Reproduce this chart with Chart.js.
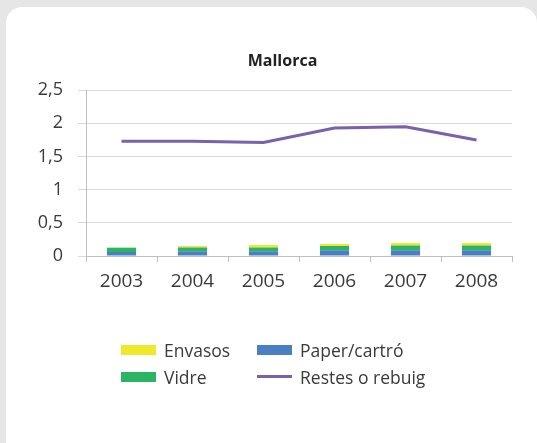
<!DOCTYPE html>
<html>
<head>
<meta charset="utf-8">
<script src="https://cdn.jsdelivr.net/npm/chart.js@4.4.1/dist/chart.umd.min.js"></script>
<style>
  html, body { margin: 0; padding: 0; }
  body {
    width: 537px; height: 443px; overflow: hidden;
    background: #e6e6e6; position: relative;
    font-family: "Open Sans", sans-serif;
  }
  #card {
    position: absolute; left: 6px; top: 7px; width: 531px; height: 450px;
    background: #fff; border-radius: 16px;
  }
  #wrap { position: absolute; left: 0; top: 0; width: 537px; height: 443px; }
  #legend {
    position: absolute; left: 121px; top: 336px;
    display: grid; grid-template-columns: 136px auto; grid-auto-rows: 27px;
    font-size: 17.5px; color: #3a3a3a;
  }
  .item { display: flex; align-items: center; white-space: nowrap; }
  .swatch { width: 35px; height: 10px; margin-right: 8px; }
  .swatch.line { height: 3px; }
</style>
</head>
<body>
<div id="card"></div>
<div id="wrap"><canvas id="chart" width="537" height="443"></canvas></div>
<div id="legend"></div>
<script>
  // --- Data ---
  const years = ["2003", "2004", "2005", "2006", "2007", "2008"];
  const paperCarton = [0.06, 0.07, 0.07, 0.085, 0.085, 0.085];
  const vidre = [0.065, 0.06, 0.06, 0.065, 0.075, 0.075];
  const envasos = [0.005, 0.02, 0.035, 0.03, 0.035, 0.035];
  const restes = [1.73, 1.73, 1.71, 1.93, 1.95, 1.75];
  const legendOrder = ["Envasos", "Paper/cartró", "Vidre", "Restes o rebuig"];

  const textColor = "#3a3a3a";
  const gridColor = "#d9d9d9";

  const chart = new Chart(document.getElementById("chart"), {
    data: {
      labels: years,
      datasets: [
        {
          type: "bar", label: "Paper/cartró", data: paperCarton,
          backgroundColor: "#4a7fc1", stack: "bars",
          barPercentage: 0.41, categoryPercentage: 1,
        },
        {
          type: "bar", label: "Vidre", data: vidre,
          backgroundColor: "#2bb463", stack: "bars",
          barPercentage: 0.41, categoryPercentage: 1,
        },
        {
          type: "bar", label: "Envasos", data: envasos,
          backgroundColor: "#f0e82a", stack: "bars",
          barPercentage: 0.41, categoryPercentage: 1,
        },
        {
          type: "line", label: "Restes o rebuig", data: restes,
          borderColor: "#7b60ac", backgroundColor: "#7b60ac",
          borderWidth: 3, pointRadius: 0, tension: 0, stack: "line",
        },
      ],
    },
    options: {
      responsive: false,
      animation: false,
      // left - right = 28 keeps the title centred where the original has it
      layout: { padding: { left: 30, right: 2, top: 40, bottom: 147 } },
      plugins: {
        legend: { display: false },
        tooltip: { enabled: false },
        title: {
          display: true, text: "Mallorca", color: "#222",
          font: { family: "Open Sans", size: 16, weight: "bold" },
          padding: { top: 12, bottom: 19 },
        },
      },
      scales: {
        x: {
          stacked: true,
          afterFit: (scale) => { scale.height = 40; },
          grid: {
            offset: true, drawOnChartArea: false, drawTicks: true,
            tickLength: 6, color: "#bfbfbf",
          },
          border: { color: "#bfbfbf" },
          ticks: {
            color: textColor, padding: 8,
            font: { family: "Open Sans", size: 19 },
          },
        },
        y: {
          stacked: true, min: 0, max: 2.5,
          afterFit: (scale) => { scale.width = 56; },
          grid: { color: gridColor, tickLength: 8 },
          border: { color: "#bfbfbf" },
          ticks: {
            stepSize: 0.5, color: textColor, padding: 15,
            font: { family: "Open Sans", size: 18 },
            callback: (v) => String(v).replace(".", ","),
          },
        },
        // empty right-hand axis, only reserves space on the right
        yRight: {
          position: "right", min: 0, max: 2.5,
          afterFit: (scale) => { scale.width = 23; },
          grid: { display: false },
          border: { display: false },
          ticks: { display: false },
        },
      },
    },
  });

  // --- HTML legend (2 x 2) ---
  const legendEl = document.getElementById("legend");
  legendOrder.forEach((name) => {
    const ds = chart.data.datasets.find((d) => d.label === name);
    const item = document.createElement("div");
    item.className = "item";
    const sw = document.createElement("span");
    sw.className = "swatch" + (ds.type === "line" ? " line" : "");
    sw.style.background = ds.type === "line" ? ds.borderColor : ds.backgroundColor;
    const txt = document.createElement("span");
    txt.textContent = ds.label;
    item.appendChild(sw);
    item.appendChild(txt);
    legendEl.appendChild(item);
  });
</script>
</body>
</html>
